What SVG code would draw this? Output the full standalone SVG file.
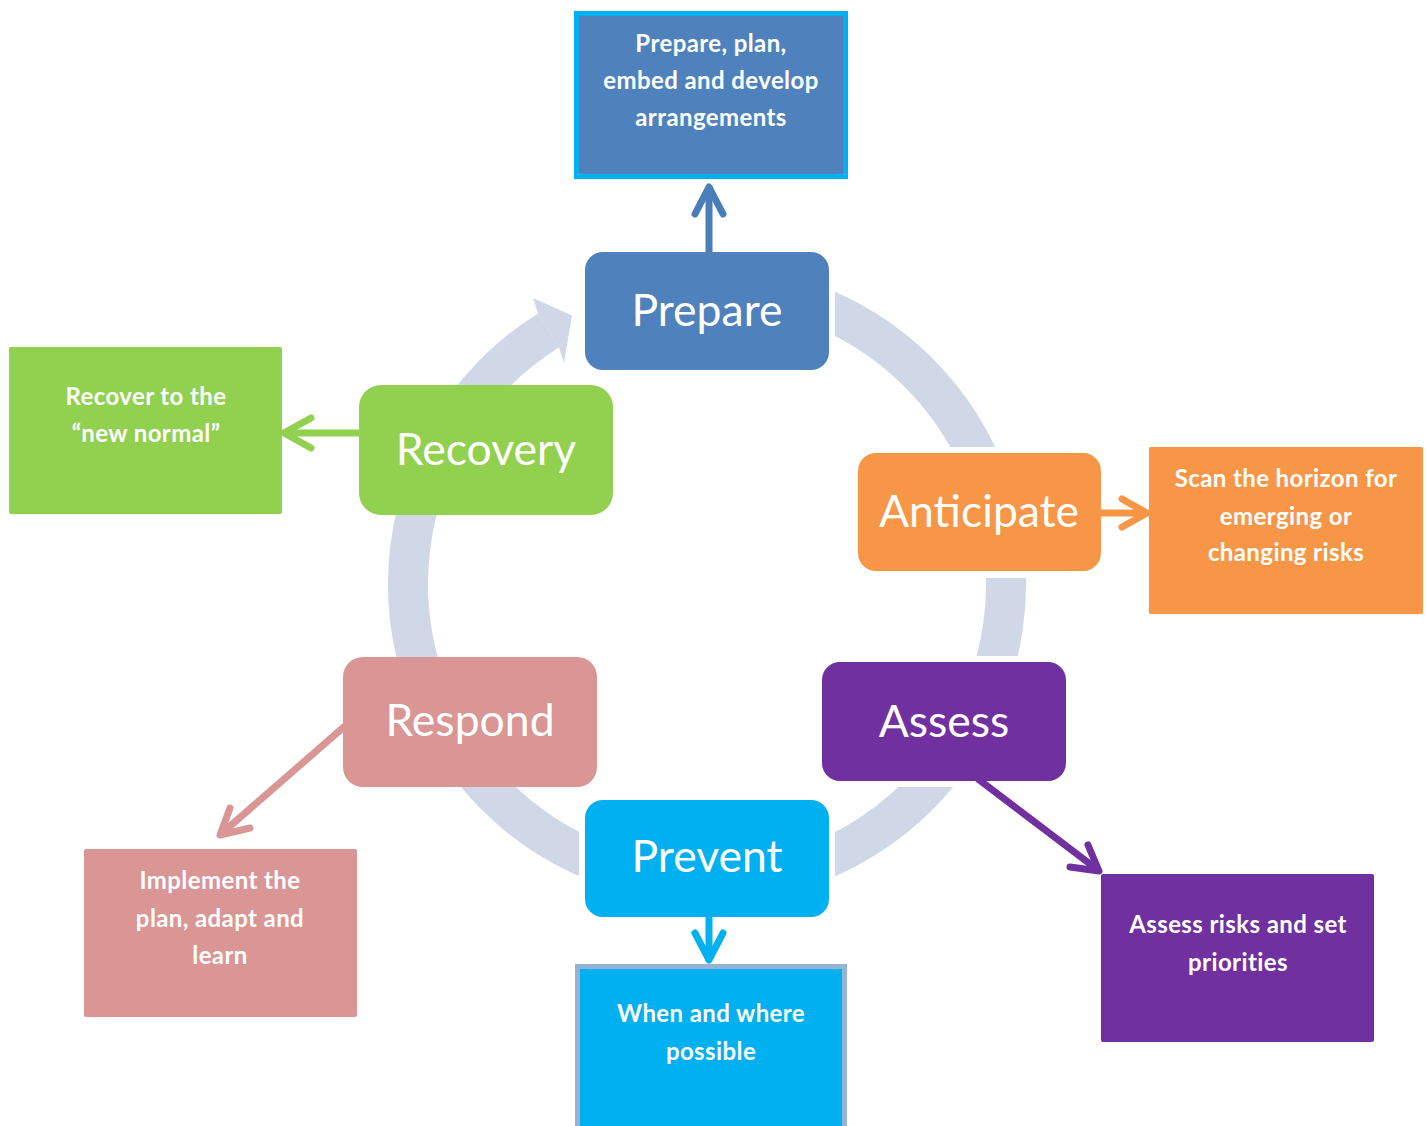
<svg xmlns="http://www.w3.org/2000/svg" width="1427" height="1126" viewBox="0 0 1427 1126">
<style>
.main{font-family:Lato,"Open Sans","Liberation Sans",sans-serif;font-size:44.5px;fill:#fff;text-anchor:middle}
.sub{font-family:Lato,"Open Sans","Liberation Sans",sans-serif;font-size:24px;letter-spacing:0.4px;font-weight:bold;fill:#fff;text-anchor:middle}
.con{fill:none;stroke-width:7;stroke-linecap:round;stroke-linejoin:round}
</style>
<defs>
<mask id="ringMask" maskUnits="userSpaceOnUse" x="0" y="0" width="1427" height="1126">
<rect x="0" y="0" width="1427" height="1126" fill="#fff"/>
<rect x="579" y="246" width="256" height="130" fill="#000"/>
<rect x="852" y="447" width="255" height="131" fill="#000"/>
<rect x="816" y="656" width="256" height="131" fill="#000"/>
<rect x="579" y="794" width="256" height="129" fill="#000"/>
</mask>
</defs>
<rect width="1427" height="1126" fill="#fff"/>
<g id="cycle">
<path d="M548.6,330.4 A299,299 0 1,0 809.3,303.0" fill="none" stroke="#D0D8E8" stroke-width="40" mask="url(#ringMask)"/>
<polygon points="538,313.5 533,298 572,315.5 564,363 559,347.4" fill="#D0D8E8"/>
</g>
<g id="connectors">
<g stroke="#4A7EBB" class="con"><line x1="709" y1="258" x2="709" y2="188"/><polyline points="695,214 709,187 723,214"/></g>
<g stroke="#92D050" class="con"><line x1="362" y1="433" x2="285" y2="433"/><polyline points="311,418 284,433 311,448"/></g>
<g stroke="#F79646" class="con"><line x1="1098" y1="513" x2="1146" y2="513"/><polyline points="1122,499 1147,513 1122,527"/></g>
<g stroke="#7030A0" class="con"><line x1="978" y1="779" x2="1098" y2="870"/><polyline points="1088,845 1099,871 1070,867"/></g>
<g stroke="#00B0F0" class="con"><line x1="709" y1="914" x2="709" y2="959"/><polyline points="695,933 709,960 723,933"/></g>
<g stroke="#D99694" class="con"><line x1="345" y1="726" x2="221" y2="834"/><polyline points="230,808 220,835 250,828"/></g>
</g>
<g id="prepare-detail">
<rect x="576.5" y="13.5" width="269" height="163" fill="#4F81BD" stroke="#00B0F0" stroke-width="5"/>
<text class="sub" x="711" y="52">Prepare, plan,</text>
<text class="sub" x="711" y="89">embed and develop</text>
<text class="sub" x="711" y="126">arrangements</text>
</g>
<g id="recovery-detail">
<rect x="9" y="347" width="273" height="167" rx="2" fill="#92D050"/>
<text class="sub" x="146" y="405">Recover to the</text>
<text class="sub" x="146" y="442">“new normal”</text>
</g>
<g id="anticipate-detail">
<rect x="1149" y="447" width="274" height="167" rx="2" fill="#F79646"/>
<text class="sub" x="1286" y="487">Scan the horizon for</text>
<text class="sub" x="1286" y="525">emerging or</text>
<text class="sub" x="1286" y="561">changing risks</text>
</g>
<g id="assess-detail">
<rect x="1101" y="874" width="273" height="168" rx="2" fill="#7030A0"/>
<text class="sub" x="1238" y="933">Assess risks and set</text>
<text class="sub" x="1238" y="971">priorities</text>
</g>
<g id="respond-detail">
<rect x="84" y="849" width="273" height="168" rx="2" fill="#D99694"/>
<text class="sub" x="220" y="889">Implement the</text>
<text class="sub" x="220" y="927">plan, adapt and</text>
<text class="sub" x="220" y="964">learn</text>
</g>
<g id="prevent-detail">
<rect x="577.5" y="966.5" width="267" height="170" fill="#00B0F0" stroke="#95B3D7" stroke-width="5"/>
<text class="sub" x="711" y="1022">When and where</text>
<text class="sub" x="711" y="1060">possible</text>
</g>
<g id="prepare">
<rect x="585" y="252" width="244" height="118" rx="18" fill="#4F81BD"/>
<text class="main" x="707" y="326">Prepare</text>
</g>
<g id="anticipate">
<rect x="858" y="453" width="243" height="118" rx="18" fill="#F79646"/>
<text class="main" x="979" y="527">Anticipate</text>
</g>
<g id="assess">
<rect x="822" y="662" width="244" height="119" rx="18" fill="#7030A0"/>
<text class="main" x="944" y="737">Assess</text>
</g>
<g id="prevent">
<rect x="585" y="800" width="244" height="117" rx="18" fill="#00B0F0"/>
<text class="main" x="707" y="872">Prevent</text>
</g>
<g id="respond">
<rect x="343" y="657" width="254" height="130" rx="20" fill="#D99694"/>
<text class="main" x="470" y="736">Respond</text>
</g>
<g id="recovery">
<rect x="359" y="385" width="254" height="130" rx="22" fill="#92D050"/>
<text class="main" x="486" y="465">Recovery</text>
</g>
</svg>
